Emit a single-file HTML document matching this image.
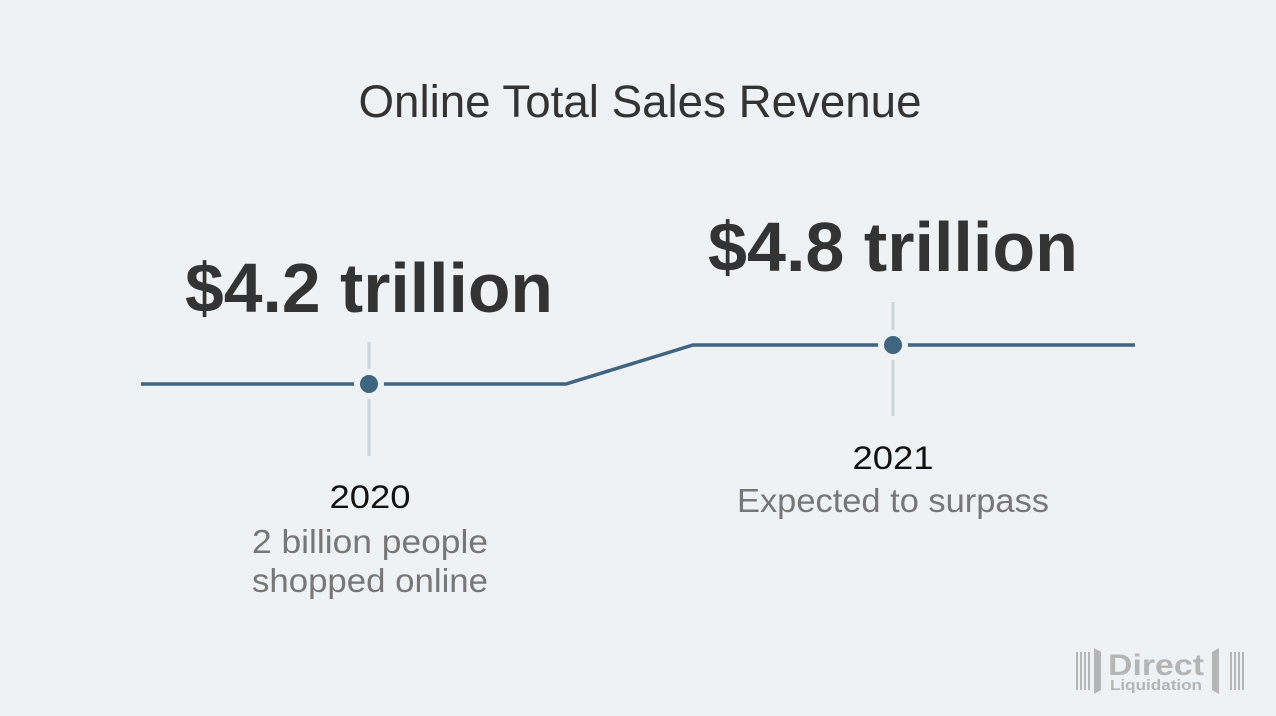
<!DOCTYPE html>
<html><head><style>
html,body{margin:0;padding:0;background:#eff2f5;}
svg{display:block;}
text{font-family:"Liberation Sans",sans-serif;}
</style></head><body>
<svg width="1276" height="716" viewBox="0 0 1276 716">
<rect width="1276" height="716" fill="#eff2f5"/>
<text x="640" y="117" text-anchor="middle" font-size="45" fill="#333" textLength="563" lengthAdjust="spacingAndGlyphs">Online Total Sales Revenue</text>
<text x="369" y="312" text-anchor="middle" font-size="70" font-weight="bold" fill="#333" textLength="368" lengthAdjust="spacingAndGlyphs">$4.2 trillion</text>
<text x="893" y="271" text-anchor="middle" font-size="70" font-weight="bold" fill="#333" textLength="370" lengthAdjust="spacingAndGlyphs">$4.8 trillion</text>
<!-- vertical ticks -->
<line x1="369" y1="342" x2="369" y2="456" stroke="#c9d4dc" stroke-width="3"/>
<line x1="893" y1="302" x2="893" y2="416" stroke="#c9d4dc" stroke-width="3"/>
<polyline points="141,384 566,384 693,345 1135,345" fill="none" stroke="#3f6580" stroke-width="3.5"/>
<circle cx="369" cy="384" r="15" fill="#eff2f5"/>
<circle cx="893" cy="345" r="15" fill="#eff2f5"/>
<circle cx="369" cy="384" r="9" fill="#3f6580"/>
<circle cx="893" cy="345" r="9" fill="#3f6580"/>
<text x="370" y="508" text-anchor="middle" font-size="32" fill="#111" textLength="81" lengthAdjust="spacingAndGlyphs">2020</text>
<text x="370" y="553" text-anchor="middle" font-size="33" fill="#777" textLength="236" lengthAdjust="spacingAndGlyphs">2 billion people</text>
<text x="370" y="592" text-anchor="middle" font-size="33" fill="#777" textLength="236" lengthAdjust="spacingAndGlyphs">shopped online</text>
<text x="893" y="469" text-anchor="middle" font-size="32" fill="#111" textLength="81" lengthAdjust="spacingAndGlyphs">2021</text>
<text x="893" y="512" text-anchor="middle" font-size="33" fill="#777" textLength="312" lengthAdjust="spacingAndGlyphs">Expected to surpass</text>
<!-- logo -->
<g fill="#b5b5b5">
<rect x="1076" y="652" width="2" height="38"/><rect x="1080" y="652" width="2" height="38"/><rect x="1084" y="652" width="2" height="38"/><rect x="1088" y="652" width="2" height="38"/>
<polygon points="1094,648 1101,652 1101,690 1094,694"/>
<polygon points="1212,652 1219,648 1219,694 1212,690"/>
<rect x="1230" y="652" width="2" height="38"/><rect x="1234" y="652" width="2" height="38"/><rect x="1238" y="652" width="2" height="38"/><rect x="1242" y="652" width="2" height="38"/>
</g>
<text x="1156" y="675" text-anchor="middle" font-size="30" font-weight="bold" fill="#b5b5b5" textLength="96" lengthAdjust="spacingAndGlyphs">Direct</text>
<text x="1156" y="690" text-anchor="middle" font-size="15" font-weight="bold" fill="#b5b5b5" textLength="92" lengthAdjust="spacingAndGlyphs">Liquidation</text>
</svg>
</body></html>
